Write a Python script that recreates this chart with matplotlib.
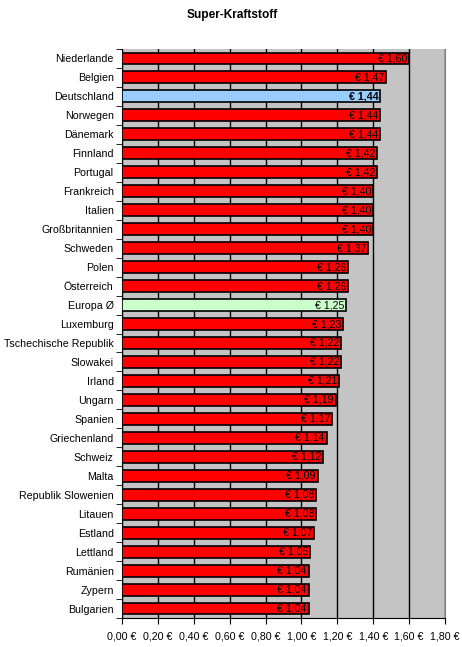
import numpy as np
import matplotlib

matplotlib.use("Agg")
import matplotlib.pyplot as plt

# ---- DATA -------------------------------------------------------------------
countries = [
    "Niederlande", "Belgien", "Deutschland", "Norwegen", "Dänemark", "Finnland",
    "Portugal", "Frankreich", "Italien", "Großbritannien", "Schweden", "Polen",
    "Österreich", "Europa Ø", "Luxemburg", "Tschechische Republik", "Slowakei",
    "Irland", "Ungarn", "Spanien", "Griechenland", "Schweiz", "Malta",
    "Republik Slowenien", "Litauen", "Estland", "Lettland", "Rumänien",
    "Zypern", "Bulgarien",
]
prices = [
    1.60, 1.47, 1.44, 1.44, 1.44, 1.42,
    1.42, 1.40, 1.40, 1.40, 1.37, 1.26,
    1.26, 1.25, 1.23, 1.22, 1.22,
    1.21, 1.19, 1.17, 1.14, 1.12, 1.09,
    1.08, 1.08, 1.07, 1.05, 1.04,
    1.04, 1.04,
]
x_ticks = [0.0, 0.2, 0.4, 0.6, 0.8, 1.0, 1.2, 1.4, 1.6, 1.8]

# ---- STYLE ------------------------------------------------------------------
plt.rcParams["font.family"] = ["Liberation Sans", "DejaVu Sans"]
FS = 7.7

bar_colors = []
for c in countries:
    if c == "Deutschland":
        bar_colors.append("#99ccff")
    elif c == "Europa Ø":
        bar_colors.append("#ccffcc")
    else:
        bar_colors.append("#ff0000")

fig = plt.figure(figsize=(4.62, 6.47), dpi=100)
ax = fig.add_axes([122 / 462, 1 - 618 / 647, (445 - 122) / 462, (618 - 49) / 647])
ax.set_facecolor("#c4c4c4")

y = np.arange(len(countries))
ax.barh(y, prices, height=0.63, color=bar_colors, edgecolor="black", linewidth=1.2, zorder=3)

for yi, (c, v) in enumerate(zip(countries, prices)):
    label = "€ " + f"{v:.2f}".replace(".", ",")
    ax.text(v - 0.01, yi, label, ha="right", va="center", fontsize=FS,
            fontweight="bold" if c == "Deutschland" else "normal", zorder=4)

ax.set_xlim(0, 1.8)
ax.set_ylim(len(countries) - 0.5, -0.5)
ax.set_xticks(x_ticks)
ax.set_xticklabels([f"{t:.2f}".replace(".", ",") + " €" for t in x_ticks], fontsize=FS)
ax.xaxis.grid(True, color="black", linewidth=1.0, zorder=1)
ax.set_axisbelow(True)

# category labels at bar centres, tick marks on category boundaries
ax.set_yticks(y)
ax.set_yticklabels(countries, fontsize=FS)
ax.tick_params(axis="y", length=0, pad=6)
ax.set_yticks(np.arange(len(countries) + 1) - 0.5, minor=True)
ax.tick_params(axis="y", which="minor", length=4, direction="out", color="black")
ax.tick_params(axis="x", length=4, direction="out", pad=6)

ax.spines["left"].set_color("black")
ax.spines["bottom"].set_color("black")
ax.spines["top"].set_visible(False)
ax.spines["right"].set_color("#808080")

fig.text(232 / 462, 1 - 15 / 647, "Super-Kraftstoff", ha="center", va="center",
         fontsize=8.6, fontweight="bold")

fig.savefig("out.png", dpi=100)
